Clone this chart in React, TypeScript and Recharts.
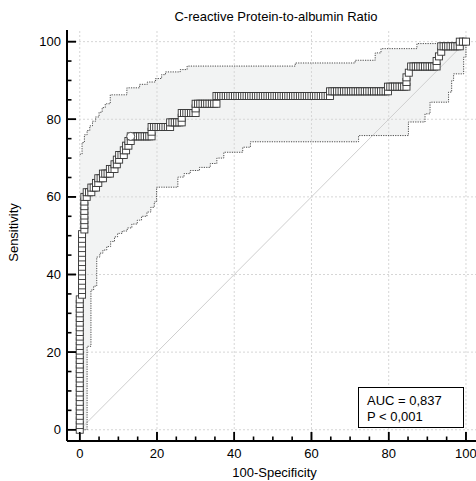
import React from "react";
import {
  ComposedChart,
  XAxis,
  YAxis,
  Area,
  Line,
  Scatter,
  ReferenceLine,
} from "recharts";

const FONT = "'Liberation Sans', Arial, sans-serif";

const WIDTH = 476;
const HEIGHT = 481;
const MARGIN_TOP = 30;
const Y_AXIS_W = 67;
const X_AXIS_H = 40;
const X_DOMAIN: [number, number] = [-3.3, 102.6];
const Y_DOMAIN: [number, number] = [-2.9, 103];

// axis ticks (labels only on every 20)
const majorTicks = [0, 20, 40, 60, 80, 100];
const minorTicks = [5, 10, 15, 25, 30, 35, 45, 50, 55, 65, 70, 75, 85, 90, 95];
const gridValues = [0, 20, 40, 60, 80, 100];

// ROC points (100-specificity, sensitivity)
const rocPoints: [number, number][] = [
  [0, 0], [0, 1.2], [0, 2.4], [0, 3.6], [0, 4.8], [0, 6], [0, 7.2], [0, 8.4], [0, 9.6], [0, 10.8],
  [0, 12], [0, 13.2], [0, 14.4], [0, 15.6], [0, 16.8], [0, 18], [0, 19.2], [0, 20.4], [0, 21.6], [0, 22.8],
  [0, 24], [0, 25.2], [0, 26.4], [0, 27.6], [0, 28.8], [0, 30], [0, 31.2], [0, 32.4], [0, 33.6],
  [0.6, 34.8], [0.6, 36], [0.6, 37.2], [0.6, 38.4], [0.6, 39.6], [0.6, 40.8], [0.6, 42], [0.6, 43.2],
  [0.6, 44.4], [0.6, 45.6], [0.6, 46.8], [0.6, 48], [0.6, 49.2], [0.6, 50.4],
  [1.2, 51.6], [1.2, 52.8], [1.2, 54], [1.2, 55.2], [1.2, 56.4], [1.2, 57.6], [1.2, 58.8], [1.2, 60],
  [1.8, 60], [1.8, 61.2], [2.4, 61.2], [3, 61.2], [3, 62.4], [3.6, 62.4], [4.2, 62.4], [4.2, 63.6],
  [4.8, 63.6], [4.8, 64.8], [5.4, 64.8], [6, 64.8], [6, 66], [6.6, 66], [7.2, 66], [7.8, 66], [7.8, 67.2],
  [8.4, 67.2], [9, 67.2], [9, 68.4], [9.6, 68.4], [9.6, 69.6], [10.2, 69.6], [10.2, 70.8], [10.8, 70.8],
  [11.4, 70.8], [11.4, 72], [12, 72], [12, 73.2], [12.6, 73.2], [12.6, 74.4], [13.2, 74.4], [13.2, 75.6],
  [13.8, 75.6], [14.4, 75.6], [15, 75.6], [15.6, 75.6], [16.2, 75.6], [16.8, 75.6], [17.4, 75.6], [18, 75.6],
  [18.6, 75.6], [18.6, 76.8], [18.6, 78], [19.2, 78], [19.8, 78], [20.4, 78], [21, 78], [21.6, 78],
  [22.2, 78], [22.8, 78], [23.4, 78], [23.4, 79.2], [24, 79.2], [24.6, 79.2], [25.2, 79.2], [25.8, 79.2],
  [26.4, 79.2], [26.4, 80.4], [26.4, 81.6], [27, 81.6], [27.6, 81.6], [28.2, 81.6], [28.8, 81.6],
  [29.4, 81.6], [30, 81.6], [30, 82.8], [30, 84], [30.6, 84], [31.2, 84], [31.8, 84], [32.4, 84], [33, 84],
  [33.6, 84], [34.2, 84], [34.8, 84], [35.4, 84], [35.4, 86],
  [36, 86], [36.6, 86], [37.2, 86], [37.8, 86], [38.4, 86], [39, 86], [39.6, 86], [40.2, 86], [40.8, 86],
  [41.4, 86], [42, 86], [42.6, 86], [43.2, 86], [43.8, 86], [44.4, 86], [45, 86], [45.6, 86], [46.2, 86],
  [46.8, 86], [47.4, 86], [48, 86], [48.6, 86], [49.2, 86], [49.8, 86], [50.4, 86], [51, 86], [51.6, 86],
  [52.2, 86], [52.8, 86], [53.4, 86], [54, 86], [54.6, 86], [55.2, 86], [55.8, 86], [56.4, 86], [57, 86],
  [57.6, 86], [58.2, 86], [58.8, 86], [59.4, 86], [60, 86], [60.6, 86], [61.2, 86], [61.8, 86], [62.4, 86],
  [63, 86], [63.6, 86], [64.2, 86], [64.8, 86],
  [64.8, 87.2], [65.4, 87.2], [66, 87.2], [66.6, 87.2], [67.2, 87.2], [67.8, 87.2], [68.4, 87.2], [69, 87.2],
  [69.6, 87.2], [70.2, 87.2], [70.8, 87.2], [71.4, 87.2], [72, 87.2], [72.6, 87.2], [73.2, 87.2],
  [73.8, 87.2], [74.4, 87.2], [75, 87.2], [75.6, 87.2], [76.2, 87.2], [76.8, 87.2], [77.4, 87.2], [78, 87.2],
  [78.6, 87.2], [79.2, 87.2], [79.8, 87.2],
  [79.8, 88.4], [80.4, 88.4], [81, 88.4], [81.6, 88.4], [82.2, 88.4], [82.8, 88.4], [83.4, 88.4], [84, 88.4],
  [84.6, 88.4], [84.6, 89.6], [84.6, 90.8], [85.2, 92], [85.8, 93.6],
  [86.4, 93.6], [87, 93.6], [87.6, 93.6], [88.2, 93.6], [88.8, 93.6], [89.4, 93.6], [90, 93.6], [90.6, 93.6],
  [91.2, 93.6], [91.8, 93.6], [92.4, 93.6], [92.4, 95], [93, 96.2], [93.6, 97.4], [93.6, 98.8],
  [94.2, 98.8], [94.8, 98.8], [95.4, 98.8], [96, 98.8], [96.6, 98.8], [97.2, 98.8], [97.8, 98.8], [98.4, 98.8],
  [98.4, 100], [99.2, 100], [100, 100],
];

// optimal criterion (open circle)
const criterionPoint = [{ x: 13.2, y: 75.6 }];

// 95% confidence bounds, step points
const upperFpr = [0, 0.6, 1.2, 1.9, 2.6, 3.3, 4.1, 5.0, 5.8, 6.6, 7.9, 12.2, 15.5, 17.5, 19.6, 21.2, 22.2, 26, 27.8, 55.8, 71.3, 76.5, 78, 87.3, 98, 100];
const upperSens = [71, 74, 76, 77.1, 78.3, 79.5, 80.6, 81.8, 83, 84, 86.3, 88.1, 89, 89.6, 90.5, 91.5, 92.2, 92.8, 93.7, 94.5, 95.2, 97.1, 98.2, 99.5, 100, 100];
const lowerFpr = [0, 1.9, 2.9, 3.6, 4.4, 5.2, 6.0, 7.0, 8.0, 9.0, 9.8, 11.0, 12.3, 13.5, 14.9, 16.0, 17.4, 18.4, 19.3, 19.9, 25.4, 27.0, 28.6, 31, 33.8, 35.5, 37.3, 42.2, 44.2, 72.2, 85.1, 89.4, 90.7, 95.5, 96.3, 96.8, 99.4, 100];
const lowerSens = [0, 21.5, 36, 37, 44.5, 45.5, 46.3, 47.2, 48.5, 49.7, 50.6, 51.2, 52, 53, 54, 55, 56.1, 57.3, 58.7, 62.5, 65.1, 66, 66.8, 67.6, 68.6, 70, 71.5, 72.8, 74.2, 75.8, 79.3, 81.4, 84.4, 87, 90, 91.7, 96, 100];

const stepValue = (xs: number[], ys: number[], x: number) => {
  let v = ys[0];
  xs.forEach((px, i) => {
    if (px <= x) v = ys[i];
  });
  return v;
};

const bandX = Array.from(new Set([...upperFpr, ...lowerFpr])).sort((a, b) => a - b);
const bandRows = bandX.map((x) => {
  const hi = stepValue(upperFpr, upperSens, x);
  const lo = stepValue(lowerFpr, lowerSens, x);
  return { x, hi, lo, band: [lo, hi] };
});

const rocData = rocPoints.map(([x, y]) => ({ x, y }));

// plot frame, used for the inward tick marks drawn on top
const plotLeft = Y_AXIS_W;
const plotBottom = HEIGHT - X_AXIS_H;
const plotW = WIDTH - Y_AXIS_W;
const plotH = HEIGHT - MARGIN_TOP - X_AXIS_H;
const toPx = (v: number) => plotLeft + ((v - X_DOMAIN[0]) / (X_DOMAIN[1] - X_DOMAIN[0])) * plotW;
const toPy = (v: number) => plotBottom - ((v - Y_DOMAIN[0]) / (Y_DOMAIN[1] - Y_DOMAIN[0])) * plotH;

// with tickSize -9 the tick coordinate sits 9px inside the plot
const XTick = (props: any) => (
  <text x={props.x} y={Number(props.y) + 26} textAnchor="middle" fontSize={13} fontFamily={FONT} fill="#000">
    {props.payload.value}
  </text>
);

const YTick = (props: any) => (
  <text x={Number(props.x) - 15} y={Number(props.y) + 4.5} textAnchor="end" fontSize={13} fontFamily={FONT} fill="#000">
    {props.payload.value}
  </text>
);

const XTitle = ({ viewBox }: any) => (
  <text
    x={viewBox.x + viewBox.width / 2 + 3}
    y={viewBox.y + 36}
    textAnchor="middle"
    fontSize={13}
    fontFamily={FONT}
    fill="#000"
  >
    100-Specificity
  </text>
);

const YTitle = ({ viewBox }: any) => {
  const cx = 18;
  const cy = viewBox.y + viewBox.height / 2 - 3;
  return (
    <text
      x={cx}
      y={cy}
      transform={`rotate(-90, ${cx}, ${cy})`}
      textAnchor="middle"
      fontSize={13}
      fontFamily={FONT}
      fill="#000"
    >
      Sensitivity
    </text>
  );
};

const SquareDot = ({ cx, cy }: any) => (
  <rect x={cx - 3.5} y={cy - 3.5} width={7} height={7} fill="#fff" stroke="#333" strokeWidth={0.9} />
);

const CircleDot = ({ cx, cy }: any) => (
  <circle cx={cx} cy={cy} r={4} fill="#fff" stroke="#555" strokeWidth={1} />
);

export default function App() {
  return (
    <div style={{ position: "absolute", left: 0, top: 0, width: WIDTH, height: HEIGHT, background: "#fff" }}>
      <div
        style={{
          position: "absolute",
          left: 276,
          top: 9,
          transform: "translateX(-50%)",
          whiteSpace: "nowrap",
          fontFamily: FONT,
          fontSize: 13,
          color: "#000",
        }}
      >
        C-reactive Protein-to-albumin Ratio
      </div>
      <ComposedChart
        width={WIDTH}
        height={HEIGHT}
        data={bandRows}
        margin={{ top: MARGIN_TOP, right: 0, bottom: 0, left: 0 }}
      >
        <XAxis
          type="number"
          dataKey="x"
          domain={X_DOMAIN}
          allowDataOverflow
          ticks={majorTicks}
          interval={0}
          tickSize={-9}
          tickMargin={0}
          tickLine={{ stroke: "#000", strokeWidth: 1.5 }}
          axisLine={{ stroke: "#000", strokeWidth: 2 }}
          tick={<XTick />}
          height={X_AXIS_H}
          label={<XTitle />}
        />
        <YAxis
          type="number"
          domain={Y_DOMAIN}
          allowDataOverflow
          ticks={majorTicks}
          interval={0}
          tickSize={-9}
          tickMargin={0}
          tickLine={{ stroke: "#000", strokeWidth: 1.5 }}
          axisLine={{ stroke: "#000", strokeWidth: 2 }}
          tick={<YTick />}
          width={Y_AXIS_W}
          label={<YTitle />}
        />
        {gridValues.map((v) => (
          <ReferenceLine key={`gx${v}`} x={v} stroke="#d6d6d6" strokeDasharray="2 2" />
        ))}
        {gridValues.map((v) => (
          <ReferenceLine key={`gy${v}`} y={v} stroke="#d6d6d6" strokeDasharray="2 2" />
        ))}
        <ReferenceLine
          segment={[
            { x: 0, y: 0 },
            { x: 100, y: 100 },
          ]}
          stroke="#cfcfcf"
          strokeWidth={1}
        />
        <Area
          type="stepAfter"
          dataKey="band"
          stroke="none"
          fill="#eceeee"
          fillOpacity={0.7}
          isAnimationActive={false}
          activeDot={false}
        />
        <Line
          type="stepAfter"
          dataKey="hi"
          stroke="#4a4a4a"
          strokeWidth={1}
          strokeDasharray="1.2 1.2"
          dot={false}
          activeDot={false}
          isAnimationActive={false}
        />
        <Line
          type="stepAfter"
          dataKey="lo"
          stroke="#4a4a4a"
          strokeWidth={1}
          strokeDasharray="1.2 1.2"
          dot={false}
          activeDot={false}
          isAnimationActive={false}
        />
        <Scatter
          data={rocData}
          dataKey="y"
          line={{ stroke: "#333", strokeWidth: 1 }}
          shape={<SquareDot />}
          isAnimationActive={false}
        />
        <Scatter data={criterionPoint} dataKey="y" shape={<CircleDot />} isAnimationActive={false} />
      </ComposedChart>
      <svg
        width={WIDTH}
        height={HEIGHT}
        style={{ position: "absolute", left: 0, top: 0, pointerEvents: "none", zIndex: 5 }}
      >
        {[...majorTicks, ...minorTicks].map((v) => {
          const len = v % 20 === 0 ? 9 : 4.5;
          const px = toPx(v);
          return (
            <rect key={`tx${v}`} x={px - 0.8} y={plotBottom - len} width={1.6} height={len} fill="#000" />
          );
        })}
        {[...majorTicks, ...minorTicks].map((v) => {
          const len = v % 20 === 0 ? 9 : 4.5;
          const py = toPy(v);
          return (
            <rect key={`ty${v}`} x={plotLeft} y={py - 0.8} width={len} height={1.6} fill="#000" />
          );
        })}
      </svg>
      <div
        style={{
          position: "absolute",
          left: 358,
          top: 387,
          width: 106,
          height: 41,
          border: "1.3px solid #000",
          background: "#fff",
          fontFamily: FONT,
          fontSize: 13,
          lineHeight: "16px",
          color: "#000",
          padding: "5px 0 0 8px",
          boxSizing: "border-box",
          whiteSpace: "nowrap",
          zIndex: 6,
        }}
      >
        <div>AUC = 0,837</div>
        <div>P &lt; 0,001</div>
      </div>
    </div>
  );
}
